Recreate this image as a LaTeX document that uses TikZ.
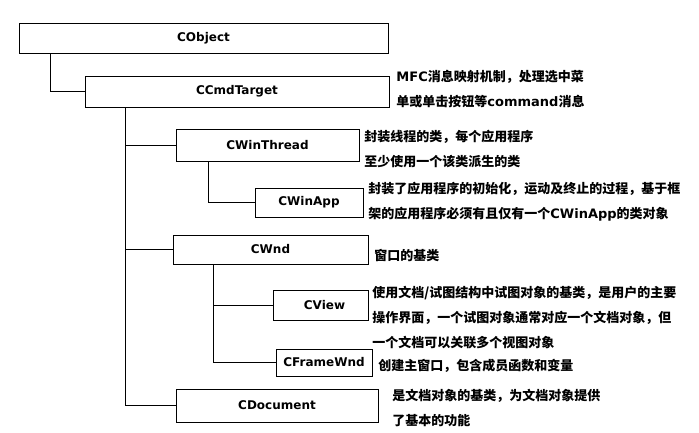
\documentclass[tikz,border=0pt]{standalone}
\usepackage{fontspec}
\setmainfont{Noto Sans CJK SC}
\newfontfamily\latin{DejaVu Sans}
\begin{document}
\begin{tikzpicture}[x=1pt,y=-1pt,line width=0.9pt,
    clase/.style={draw,rectangle,inner sep=0pt,font=\latin\bfseries\fontsize{12}{14}\selectfont},
    nota/.style={anchor=west,align=left,inner sep=0pt,font=\bfseries\fontsize{13}{25}\selectfont}]
    \useasboundingbox (0,0) rectangle (699,432);

    % Cajas de clases
    \node[clase,minimum width=369pt,minimum height=30pt] (cobject) at (203.5,38) {CObject};
    \node[clase,minimum width=304pt,minimum height=31pt] (ccmdtarget) at (237,91.5) {CCmdTarget};
    \node[clase,minimum width=183pt,minimum height=32pt] (cwinthread) at (267.5,145) {CWinThread};
    \node[clase,minimum width=108pt,minimum height=29pt] (cwinapp) at (309,202.5) {CWinApp};
    \node[clase,minimum width=195pt,minimum height=29pt] (cwnd) at (270.5,249.5) {CWnd};
    \node[clase,minimum width=95pt,minimum height=30pt] (cview) at (320.5,305) {\hspace{8pt}CView};
    \node[clase,minimum width=96pt,minimum height=27pt] (cframewnd) at (324,362.5) {CFrameWnd};
    \node[clase,minimum width=202pt,minimum height=33pt] (cdocument) at (277,405.5) {CDocument};

    % Lineas de herencia
    \draw ([xshift=31.5pt]cobject.south west) |- (ccmdtarget.west);
    \foreach \hijo in {cwinthread,cwnd,cdocument}
        \draw ([xshift=41pt]ccmdtarget.south west) |- (\hijo.west);
    \draw ([xshift=33pt]cwinthread.south west) |- (cwinapp.west);
    \foreach \hijo in {cview,cframewnd}
        \draw ([xshift=40.5pt]cwnd.south west) |- (\hijo.west);

    % Notas
    \node[nota] (notacmd) at (396,89.5) {{\latin MFC}消息映射机制，处理选中菜\\单或单击按钮等{\latin command}消息};
    \node[nota] (notathread) at (364,149) {封装线程的类，每个应用程序\\至少使用一个该类派生的类};
    \node[nota] (notaapp) at (368,201.5) {封装了应用程序的初始化，运动及终止的过程，基于框\\架的应用程序必须有且仅有一个{\latin CWinApp}的类对象};
    \node[nota] (notawnd) at (374,256) {窗口的基类};
    \node[nota] (notaview) at (372,317.5) {使用文档/试图结构中试图对象的基类，是用户的主要\\操作界面，一个试图对象通常对应一个文档对象，但\\一个文档可以关联多个视图对象};
    \node[nota] (notaframe) at (378,366) {创建主窗口，包含成员函数和变量};
    \node[nota] (notadoc) at (392,407.5) {是文档对象的基类，为文档对象提供\\了基本的功能};
\end{tikzpicture}
\end{document}
